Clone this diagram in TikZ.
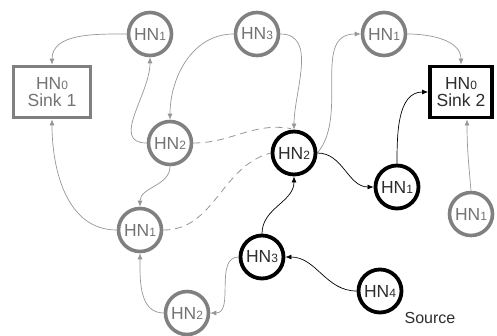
\documentclass[tikz,border=0pt]{standalone}
\usepackage{fontspec}
\setmainfont{Liberation Sans}
\usetikzlibrary{arrows.meta}
\definecolor{gnode}{RGB}{128,128,128}
\definecolor{gtext}{RGB}{115,115,115}
\definecolor{gedge}{RGB}{150,150,150}
\definecolor{btext}{RGB}{45,45,45}
\newcommand{\hnlab}[1]{HN{\fontsize{12}{12}\selectfont #1}}
\tikzset{
  gcirc/.style={circle, draw=gnode, line width=3.6pt, minimum size=43pt, inner sep=0pt, text=gtext, font=\fontsize{17.5}{17.5}\selectfont},
  bcirc/.style={circle, draw=black, line width=3.8pt, minimum size=43pt, inner sep=0pt, text=btext, font=\fontsize{17.5}{17.5}\selectfont},
  gbox/.style={rectangle, draw=gnode, line width=3.6pt, minimum width=77pt, minimum height=51pt, inner sep=0pt, text=gtext, align=center, font=\fontsize{17.5}{17}\selectfont},
  bbox/.style={rectangle, draw=black, line width=3.8pt, minimum width=62pt, minimum height=51pt, inner sep=0pt, text=btext, align=center, font=\fontsize{17.5}{17}\selectfont},
  gar/.style={draw=gedge, line width=0.7pt, -{Latex[length=6pt,width=5pt]}},
  bar/.style={draw=black, line width=0.7pt, -{Latex[length=6pt,width=5pt]}},
  gdash/.style={draw=gedge, line width=0.8pt, dash pattern=on 7pt off 5pt},
}
\begin{document}
\begin{tikzpicture}[x=1pt,y=-1pt]
\useasboundingbox (0,0) rectangle (497,335);
% nodes
\node[gbox] (sinka) at (52,92) {\hnlab{0}\\Sink 1};
\node[bbox] (sinkb) at (461,92) {\hnlab{0}\\Sink 2};
\node[gcirc] (hna) at (150,34) {\hnlab{1}};
\node[gcirc] (hnc) at (257,34) {\hnlab{3}};
\node[gcirc] (hnd) at (384,34) {\hnlab{1}};
\node[gcirc] (hnb) at (170,143) {\hnlab{2}};
\node[bcirc] (hne) at (294,153) {\hnlab{2}};
\node[bcirc] (hnf) at (397,187) {\hnlab{1}};
\node[gcirc] (hng) at (471,214) {\hnlab{1}};
\node[gcirc] (hnh) at (140,230) {\hnlab{1}};
\node[bcirc] (hni) at (262,257) {\hnlab{3}};
\node[bcirc] (hnj) at (380,291) {\hnlab{4}};
\node[gcirc] (hnk) at (187,313) {\hnlab{2}};
\node[text=btext, font=\fontsize{16}{16}\selectfont] (src) at (430,318) {Source};
% gray edges
\draw[gar] (hna.west) to[out=180,in=90] (sinka.north);
\draw[gar] (hnb.west) to[out=180,in=-90,looseness=1.1] (hna.south);
\draw[gar] (hnc.west) to[out=180,in=90] (hnb.north);
\draw[gar] (hnc.east) to[out=0,in=90] (hne.north);
\draw[gar] (hne.east) to[out=50,in=180] (hnd.west);
\draw[gar] (hnd.east) to[out=0,in=90] (sinkb.north);
\draw[gar] (hng.north) to[out=95,in=-90] ([xshift=6pt]sinkb.south);
\draw[gar] (hni.west) to[out=180,in=0] (hnk.east);
\draw[gar] (hnk.west) to[out=180,in=-90] (hnh.south);
\draw[gar] (hnh.west) to[out=180,in=-90] (sinka.south);
\draw[gar] (hnb.south) to[out=-90,in=90] (hnh.north);
% black edges
\draw[bar] (hnf.north) to[out=90,in=180] (sinkb.west);
\draw[bar] (hne.east) to[out=0,in=180] (hnf.west);
\draw[bar] (hni.north) to[out=90,in=-90] (hne.south);
\draw[bar] (hnj.west) to[out=180,in=0] (hni.east);
% dashed
\draw[gdash] (hnb.east) to[out=0,in=170] ([xshift=-3pt,yshift=1pt]hne.north);
\draw[gdash] (hnh.east) to[out=0,in=195] (hne.west);
\end{tikzpicture}
\end{document}
